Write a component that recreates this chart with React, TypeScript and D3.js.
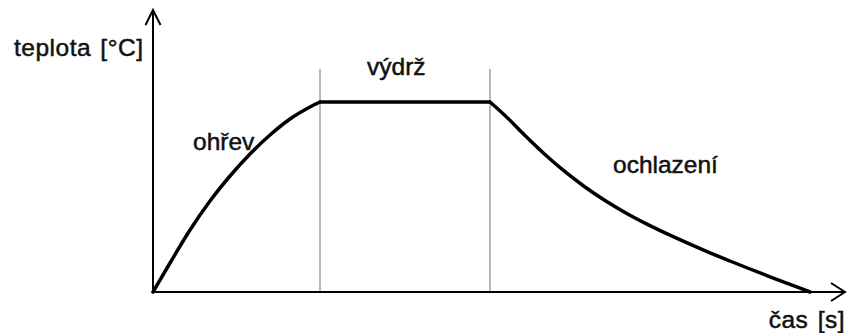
import React from 'react';
import * as d3 from 'd3';

// Heating phase (time, temperature) in arbitrary units
const heatTime = [0, 17, 37, 57, 77, 97, 117, 137, 157, 167];
const heatTemp = [0, 29, 62, 91, 116, 138, 157, 173, 185, 190];
// Hold phase
const holdTime = [167, 337];
const holdTemp = [190, 190];
// Cooling phase
const coolTime = [337, 352, 372, 392, 412, 432, 452, 472, 497, 517, 537, 557, 577, 597, 617, 637, 657];
const coolTemp = [190, 176.5, 156.5, 137.5, 120.3, 105, 91.5, 79.6, 66.4, 56.8, 47.8, 39.2, 31, 23, 15.2, 7.6, 0];
// Phase boundaries (time)
const phaseBounds = [167, 337];
// Texts
const axisLabels = ['teplota [°C]', 'čas [s]'];
const phaseLabels = ['ohřev', 'výdrž', 'ochlazení'];

const W = 847;
const H = 333;

export default function App() {
  const x = d3.scaleLinear().domain([0, 692]).range([153, 845]);
  const y = d3.scaleLinear().domain([0, 282]).range([292, 10]);

  const zip = (a: number[], b: number[]) => a.map((v, i) => [v, b[i]] as [number, number]);
  const smooth = d3
    .line<[number, number]>()
    .x((d) => x(d[0]))
    .y((d) => y(d[1]))
    .curve(d3.curveMonotoneX);
  const straight = d3
    .line<[number, number]>()
    .x((d) => x(d[0]))
    .y((d) => y(d[1]));

  const x0 = x(0);
  const y0 = y(0);
  const yTop = y(282);
  const xEnd = x(692);
  const font = "'Liberation Sans', Arial, sans-serif";
  const fs = 24.5;

  return (
    <svg
      width={W}
      height={H}
      style={{ position: 'absolute', left: 0, top: 0, background: '#fff' }}
    >
      <rect x={0} y={0} width={W} height={H} fill="#fff" />
      {/* phase boundary lines */}
      {phaseBounds.map((t, i) => (
        <line key={i} x1={x(t)} x2={x(t)} y1={69} y2={y0} stroke="#8a8a8a" strokeWidth={1.2} />
      ))}
      {/* axes */}
      <line x1={x0} x2={x0} y1={y0} y2={yTop} stroke="#000" strokeWidth={2} />
      <polyline
        points={`${x0 - 7.5},${yTop + 15} ${x0},${yTop} ${x0 + 7.5},${yTop + 15}`}
        fill="none"
        stroke="#000"
        strokeWidth={2}
      />
      <line x1={x0} x2={xEnd} y1={y0} y2={y0} stroke="#000" strokeWidth={2} />
      <polyline
        points={`${xEnd - 14},${y0 - 9} ${xEnd},${y0} ${xEnd - 14},${y0 + 9}`}
        fill="none"
        stroke="#000"
        strokeWidth={2}
      />
      {/* profile */}
      <path d={smooth(zip(heatTime, heatTemp)) || ''} fill="none" stroke="#000" strokeWidth={3.5} strokeLinecap="round" />
      <path d={straight(zip(holdTime, holdTemp)) || ''} fill="none" stroke="#000" strokeWidth={3.5} strokeLinecap="round" />
      <path d={smooth(zip(coolTime, coolTemp)) || ''} fill="none" stroke="#000" strokeWidth={3.5} strokeLinecap="round" />
      {/* texts */}
      <g fontFamily={font} fontSize={fs} fill="#111" stroke="#111" strokeWidth={0.5}>
        <text x={14} y={56} letterSpacing={0.5} wordSpacing={2}>{axisLabels[0]}</text>
        <text x={845} y={328} textAnchor="end" letterSpacing={0.5} wordSpacing={2}>{axisLabels[1]}</text>
        <text x={193} y={150}>{phaseLabels[0]}</text>
        <text x={367} y={75}>{phaseLabels[1]}</text>
        <text x={613} y={173}>{phaseLabels[2]}</text>
      </g>
    </svg>
  );
}
